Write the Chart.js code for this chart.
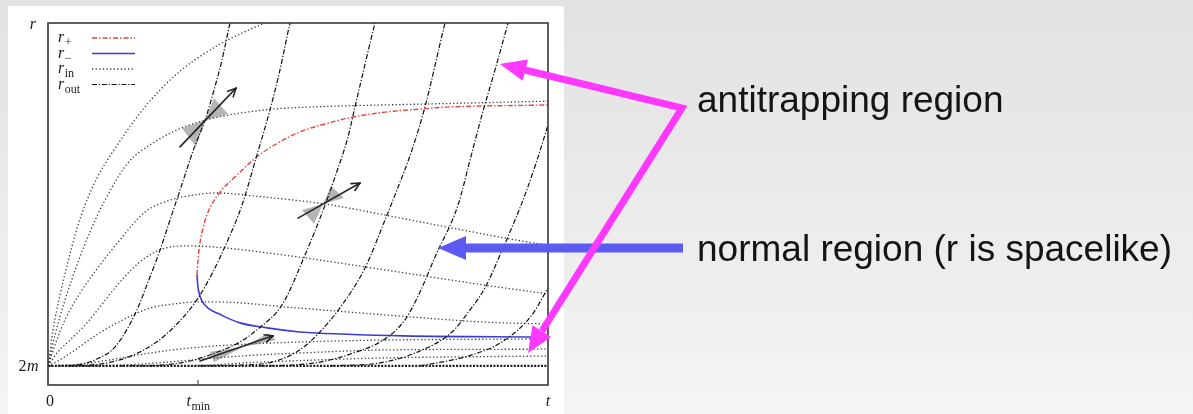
<!DOCTYPE html>
<html>
<head>
<meta charset="utf-8">
<script src="https://cdn.jsdelivr.net/npm/chart.js@4.4.1/dist/chart.umd.min.js"></script>
<style>
  html, body { margin: 0; padding: 0; }
  body {
    width: 1193px; height: 414px; overflow: hidden; position: relative;
    background: linear-gradient(to bottom, #e2e2e2, #f4f4f4);
  }
  #card { position: absolute; left: 8px; top: 6px; width: 556px; height: 408px; background: #fff; }
  #plot { position: absolute; left: 0; top: 0; }
  #notes { position: absolute; left: 0; top: 0; }
  .note { font-family: "Liberation Sans", Arial, sans-serif; font-size: 37px; fill: #141414; }
</style>
</head>
<body>
<div id="card"><canvas id="plot" width="556" height="408"></canvas></div>
<svg id="notes" width="1193" height="414" xmlns="http://www.w3.org/2000/svg">
  <line x1="462" y1="248" x2="683" y2="248" stroke="#5b5bf2" stroke-width="9"/>
  <polygon fill="#5b5bf2" points="438,248 466,236 466,260"/>
  <polyline points="525,70 682,108 542,331" fill="none" stroke="#ff38ff" stroke-width="7" stroke-linejoin="miter"/>
  <polygon fill="#ff38ff" points="500,64 522.7,80.8 527.9,59.4"/>
  <polygon fill="#ff38ff" points="528,353 551.1,336.9 532.5,325.2"/>
  <text class="note" x="697" y="112">antitrapping region</text>
  <text class="note" x="697" y="261">normal region (r is spacelike)</text>
</svg>
<script>
// ---- axis marks -------------------------------------------------------
const tTicks = [0, 3, 10];
const tTickLabels = ['0', 't_min', 't'];
const rTicks = [2, 11];
const rTickLabels = ['2m', 'r'];
const legendLabels = ['r_+', 'r_\u2212', 'r_in', 'r_out'];

// ---- horizons [t, r] ----------------------------------------------------
const rPlus = [[2.98,4.39],[3.02,5.04],[3.10,5.62],[3.24,6.15],[3.44,6.56],[3.74,6.96],[4.20,7.51],
  [4.64,7.88],[5.04,8.14],[5.54,8.35],[6.10,8.53],[6.74,8.66],[7.44,8.74],[8.08,8.80],[10.0,8.85]];
const rMinus = [[2.98,4.39],[3.01,3.98],[3.08,3.70],[3.20,3.52],[3.38,3.39],[3.84,3.13],[4.38,3.00],
  [5.04,2.89],[5.44,2.86],[7.10,2.79],[10.0,2.76]];
const horizon2m = [[0,2],[10,2]];

// ---- ingoing rays [t, r] ------------------------------------------------
const inA = [[0,2.00],[0.10,2.94],[0.24,3.86],[0.40,4.73],[0.56,5.52],[0.74,6.22],[0.98,6.93],[1.28,7.59],
  [1.94,8.80],[2.60,9.69],[3.34,10.37],[3.84,10.71],[4.34,11.0],[4.84,11.26]];
const inB = [[0,2.00],[0.14,2.81],[0.34,3.73],[0.58,4.65],[0.84,5.52],[1.14,6.35],[1.60,7.33],[2.04,7.80],
  [2.54,8.17],[3.14,8.45],[4.34,8.72],[5.34,8.80],[6.74,8.85],[8.44,8.90],[10.0,8.95]];
const inC = [[0,2.00],[0.14,2.55],[0.34,3.21],[0.64,3.91],[1.04,4.65],[1.44,5.31],[1.94,6.04],[2.44,6.35],
  [2.94,6.49],[3.34,6.54],[4.34,6.43],[5.54,6.25],[6.74,5.96],[8.08,5.62],[9.60,5.25],[10.0,5.17]];
const inD = [[0,2.00],[0.20,2.37],[0.44,2.68],[0.74,3.07],[1.04,3.55],[1.34,4.05],[1.64,4.49],[1.94,4.83],
  [2.28,5.07],[2.78,5.15],[3.34,5.12],[5.00,4.86],[6.74,4.52],[8.74,4.12],[10.0,3.89]];
const inE = [[0,2.00],[0.24,2.16],[0.54,2.42],[0.94,2.79],[1.38,3.13],[2.04,3.52],[2.54,3.63],[2.98,3.68],
  [3.34,3.68],[5.00,3.52],[6.74,3.34],[8.74,3.15],[10.0,3.10]];
const inF = [[0,2.00],[0.64,2.05],[1.34,2.18],[2.04,2.34],[2.84,2.47],[3.64,2.55],[5.04,2.63],[6.74,2.68],[10.0,2.71]];
const inG = [[0,2.00],[1.44,2.02],[2.64,2.13],[3.84,2.26],[5.04,2.34],[6.74,2.42],[10.0,2.44]];
const inH = [[0,2.00],[2.64,2.00],[4.24,2.10],[6.74,2.21],[10.0,2.26]];

// ---- outgoing rays [t, r] -----------------------------------------------
const out1 = [[0,2.00],[0.54,2.02],[0.94,2.16],[1.34,2.50],[1.74,3.36],[2.00,4.20],[2.24,5.04],[2.46,5.91],
  [2.68,6.77],[2.90,7.64],[3.14,8.45],[3.32,9.24],[3.48,10.03],[3.64,11.0],[3.72,11.4]];
const out2 = [[0.44,2.00],[1.04,2.05],[1.60,2.23],[2.14,2.60],[2.60,3.13],[3.00,3.78],[3.30,4.47],[3.60,5.31],
  [3.88,6.22],[4.18,7.54],[4.44,8.72],[4.64,9.77],[4.84,11.0],[4.92,11.4]];
const out3 = [[1.44,2.00],[2.24,2.02],[2.84,2.13],[3.34,2.34],[3.84,2.63],[4.20,2.97],[4.68,3.60],[5.14,4.91],
  [5.54,6.22],[5.74,6.96],[6.00,8.01],[6.14,8.80],[6.54,11.0],[6.62,11.4]];
const out4 = [[3.04,2.00],[3.84,2.02],[4.48,2.10],[5.00,2.39],[5.40,2.84],[5.88,3.60],[6.34,4.57],[6.74,5.83],
  [6.98,6.62],[7.28,7.67],[7.54,8.80],[7.94,11.0],[8.02,11.4]];
const out5 = [[4.24,2.00],[4.84,2.02],[5.44,2.10],[6.04,2.31],[6.74,2.71],[7.14,3.21],[7.44,3.94],[7.74,4.86],
  [8.20,6.22],[8.44,7.40],[8.68,8.59],[8.94,9.77],[9.20,11.0],[9.28,11.4]];
const out6 = [[5.64,2.00],[6.64,2.08],[7.40,2.37],[8.08,2.89],[8.44,3.47],[8.74,4.05],[9.04,4.91],[9.34,5.83],
  [9.54,6.49],[9.78,7.40],[10.0,8.32]];
const out7 = [[7.44,2.00],[8.40,2.26],[9.08,2.63],[9.68,3.34],[10.0,4.05]];

// ---- light cones: centre, wedge edges (lower-left pair, upper-right pair), future arrow
const coneCentres = [[3.14,8.45],[5.50,6.25],[3.90,2.50]];
const coneWedges = [
  [[2.68,8.24],[2.96,7.75],[3.32,9.03],[3.60,8.61]],
  [[5.08,6.09],[5.32,5.73],[5.66,6.72],[5.92,6.41]],
  [[3.24,2.37],[3.32,2.10],[4.40,2.86],[4.56,2.68]]
];
const coneArrows = [
  [[2.64,7.75],[3.76,9.29]],
  [[5.00,5.88],[6.24,6.80]],
  [[3.04,2.13],[4.50,2.79]]
];

// ---- line styles ----------------------------------------------------------
const STYLE = {
  plus:  { borderColor: '#e2453f', borderWidth: 1.4, borderDash: [5, 2, 1.5, 2] },
  minus: { borderColor: '#3c3cd4', borderWidth: 1.6, borderDash: [] },
  inRay: { borderColor: 'rgba(25,25,25,0.85)', borderWidth: 1.3, borderDash: [1.3, 2.3] },
  outRay:{ borderColor: '#111', borderWidth: 1.2, borderDash: [5, 1.8, 1.2, 1.8] },
  h2m:   { borderColor: '#1e1e1e', borderWidth: 2.2, borderDash: [2, 1.4] }
};
const legendStyles = [STYLE.plus, STYLE.minus, STYLE.inRay, STYLE.outRay];

const toXY = arr => arr.map(p => ({ x: p[0], y: p[1] }));
const mk = (label, arr, style, smooth) => Object.assign({
  label, data: toXY(arr), showLine: true, pointRadius: 0, pointHoverRadius: 0,
  cubicInterpolationMode: smooth ? 'default' : 'monotone', tension: 0.4, fill: false, clip: 0
}, style);

const datasets = [
  mk('2m', horizon2m, STYLE.h2m),
  ...[inA, inB, inC, inD, inE, inF, inG, inH].map((a, i) => mk('in' + i, a, STYLE.inRay)),
  ...[out1, out2, out3, out4, out5, out6, out7].map((a, i) => mk('out' + i, a, STYLE.outRay)),
  mk('r+', rPlus, STYLE.plus, true),
  mk('r-', rMinus, STYLE.minus, true)
];

const SERIF = '"Liberation Serif", "Times New Roman", serif';
function drawMath(ctx, text, x, y, size, align) {
  const parts = text.split('_');
  const base = parts[0], sub = parts[1];
  const runs = [];
  for (const ch of base) {
    runs.push({ s: ch, f: (/[A-Za-z]/.test(ch) ? 'italic ' : '') + size + 'px ' + SERIF, dy: 0 });
  }
  if (sub) runs.push({ s: sub, f: Math.round(size * 0.72) + 'px ' + SERIF, dy: size * 0.28 });
  let w = 0;
  runs.forEach(r => { ctx.font = r.f; r.w = ctx.measureText(r.s).width; w += r.w; });
  let cx = align === 'center' ? x - w / 2 : align === 'right' ? x - w : x;
  ctx.textAlign = 'left';
  ctx.textBaseline = 'alphabetic';
  runs.forEach(r => { ctx.font = r.f; ctx.fillText(r.s, cx, y + r.dy); cx += r.w + 0.5; });
}

const decor = {
  id: 'decor',
  beforeDatasetsDraw(chart) {
    const { ctx } = chart;
    const xs = chart.scales.x, ys = chart.scales.y;
    const P = p => [xs.getPixelForValue(p[0]), ys.getPixelForValue(p[1])];
    ctx.save();
    ctx.fillStyle = 'rgba(120,120,120,0.55)';
    coneCentres.forEach((c, i) => {
      const w = coneWedges[i];
      const cc = P(c);
      [[w[0], w[1]], [w[2], w[3]]].forEach(pair => {
        const a = P(pair[0]), b = P(pair[1]);
        ctx.beginPath();
        ctx.moveTo(cc[0], cc[1]); ctx.lineTo(a[0], a[1]); ctx.lineTo(b[0], b[1]);
        ctx.closePath(); ctx.fill();
      });
    });
    ctx.restore();
  },
  afterDatasetsDraw(chart) {
    const { ctx, chartArea: ca } = chart;
    const xs = chart.scales.x, ys = chart.scales.y;
    const P = p => [xs.getPixelForValue(p[0]), ys.getPixelForValue(p[1])];
    ctx.save();

    // future-pointing arrows
    ctx.strokeStyle = '#262626';
    ctx.lineWidth = 1.6;
    ctx.lineCap = 'round';
    coneArrows.forEach(a => {
      const s = P(a[0]), e = P(a[1]);
      const ang = Math.atan2(e[1] - s[1], e[0] - s[0]);
      ctx.beginPath(); ctx.moveTo(s[0], s[1]); ctx.lineTo(e[0], e[1]); ctx.stroke();
      [0.45, -0.45].forEach(d => {
        ctx.beginPath();
        ctx.moveTo(e[0], e[1]);
        ctx.lineTo(e[0] - 9 * Math.cos(ang + d), e[1] - 9 * Math.sin(ang + d));
        ctx.stroke();
      });
    });

    // frame
    ctx.setLineDash([]);
    ctx.lineCap = 'butt';
    ctx.strokeStyle = '#383838';
    ctx.lineWidth = 1.6;
    ctx.strokeRect(ca.left, ca.top, ca.right - ca.left, ca.bottom - ca.top);

    // t_min tick
    ctx.lineWidth = 1;
    const tx = xs.getPixelForValue(tTicks[1]);
    ctx.beginPath(); ctx.moveTo(tx, ca.bottom); ctx.lineTo(tx, ca.bottom - 5); ctx.stroke();

    // axis labels
    ctx.fillStyle = '#1c1c1c';
    tTicks.forEach((v, i) => {
      drawMath(ctx, tTickLabels[i], xs.getPixelForValue(v) + (i === 0 ? 2 : 0), ca.bottom + 21, 16, 'center');
    });
    drawMath(ctx, rTickLabels[0], ca.left - 10, ys.getPixelForValue(rTicks[0]) + 5, 16, 'right');
    drawMath(ctx, rTickLabels[1], ca.left - 12, ys.getPixelForValue(rTicks[1]) + 6, 16, 'right');

    // legend
    legendLabels.forEach((lab, i) => {
      const base = ca.top + 19 + i * 15.5;
      drawMath(ctx, lab, ca.left + 10, base, 16, 'left');
      const st = legendStyles[i];
      ctx.strokeStyle = st.borderColor;
      ctx.lineWidth = st.borderWidth;
      ctx.setLineDash(st.borderDash);
      ctx.beginPath();
      ctx.moveTo(ca.left + 44, base - 4);
      ctx.lineTo(ca.left + 87, base - 4);
      ctx.stroke();
    });
    ctx.restore();
  }
};

new Chart(document.getElementById('plot'), {
  type: 'scatter',
  data: { datasets },
  options: {
    responsive: false,
    animation: false,
    devicePixelRatio: 1,
    layout: { padding: { left: 40, top: 17, right: 16, bottom: 29 } },
    scales: {
      x: { type: 'linear', min: 0, max: 10, display: false },
      y: { type: 'linear', min: 1.5, max: 11, display: false }
    },
    plugins: { legend: { display: false }, tooltip: { enabled: false } },
    events: []
  },
  plugins: [decor]
});
</script>
</body>
</html>
